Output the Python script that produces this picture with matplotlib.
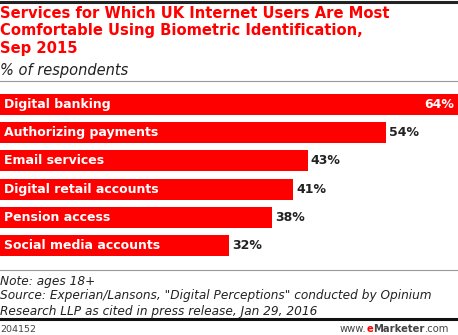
import matplotlib.pyplot as plt

# chart data
categories = ["Digital banking", "Authorizing payments", "Email services",
              "Digital retail accounts", "Pension access", "Social media accounts"]
values = [64, 54, 43, 41, 38, 32]

W, H = 458, 335
fig = plt.figure(figsize=(W / 100, H / 100), dpi=100)


def fy(py):
    # pixel row -> figure fraction
    return 1 - py / H


# header
fig.add_artist(plt.Line2D([0, 1], [fy(1.5), fy(1.5)], color="#222222", lw=2.2))
title_lines = ["Services for Which UK Internet Users Are Most",
               "Comfortable Using Biometric Identification,",
               "Sep 2015"]
for k, line in enumerate(title_lines):
    fig.text(0, fy(14 + 17 * k), line, color="#ff0000", fontsize=10.6,
             fontweight="bold", va="center")
fig.text(0, fy(70), "% of respondents", color="#222222", fontsize=10.5,
         style="italic", va="center")
fig.add_artist(plt.Line2D([0, 1], [fy(81), fy(81)], color="#999999", lw=0.8))

# bars
ax = fig.add_axes([0, fy(260), 1, 170 / H])
ypos = range(len(categories))
ax.barh(ypos, values, height=0.74, color="#ff0000", edgecolor="none")
ax.set_xlim(0, 64)
ax.set_ylim(len(categories) - 0.5, -0.5)
ax.axis("off")

for i, (cat, v) in enumerate(zip(categories, values)):
    ax.text(0.6, i, cat, color="white", fontsize=9, fontweight="bold", va="center")
    if v == max(values):
        ax.text(v - 0.5, i, f"{v}%", color="white", fontsize=9, fontweight="bold",
                va="center", ha="right")
    else:
        ax.text(v + 0.4, i, f"{v}%", color="#222222", fontsize=9, fontweight="bold",
                va="center", ha="left")

# footer
fig.add_artist(plt.Line2D([0, 1], [fy(270), fy(270)], color="#999999", lw=0.8))
notes = ["Note: ages 18+",
         'Source: Experian/Lansons, "Digital Perceptions" conducted by Opinium',
         "Research LLP as cited in press release, Jan 29, 2016"]
for k, line in enumerate(notes):
    fig.text(0, fy(281 + 15 * k), line, fontsize=8.7, style="italic",
             color="#222222", va="center")
fig.add_artist(plt.Line2D([0, 1], [fy(319), fy(319)], color="#111111", lw=2.2))
fig.text(0, fy(329), "204152", fontsize=6.8, color="#444444", va="center")

# www.eMarketer.com, built right to left
renderer = fig.canvas.get_renderer()
parts = [(".com", "#444444", "normal"), ("Marketer", "#444444", "bold"),
         ("e", "#ff0000", "bold"), ("www.", "#444444", "normal")]
x = 449 / W
for txt, col, wt in parts:
    t = fig.text(x, fy(329), txt, fontsize=7.2, color=col, fontweight=wt,
                 va="center", ha="right")
    bb = t.get_window_extent(renderer)
    x -= bb.width / W

fig.savefig("out.png", dpi=100)
